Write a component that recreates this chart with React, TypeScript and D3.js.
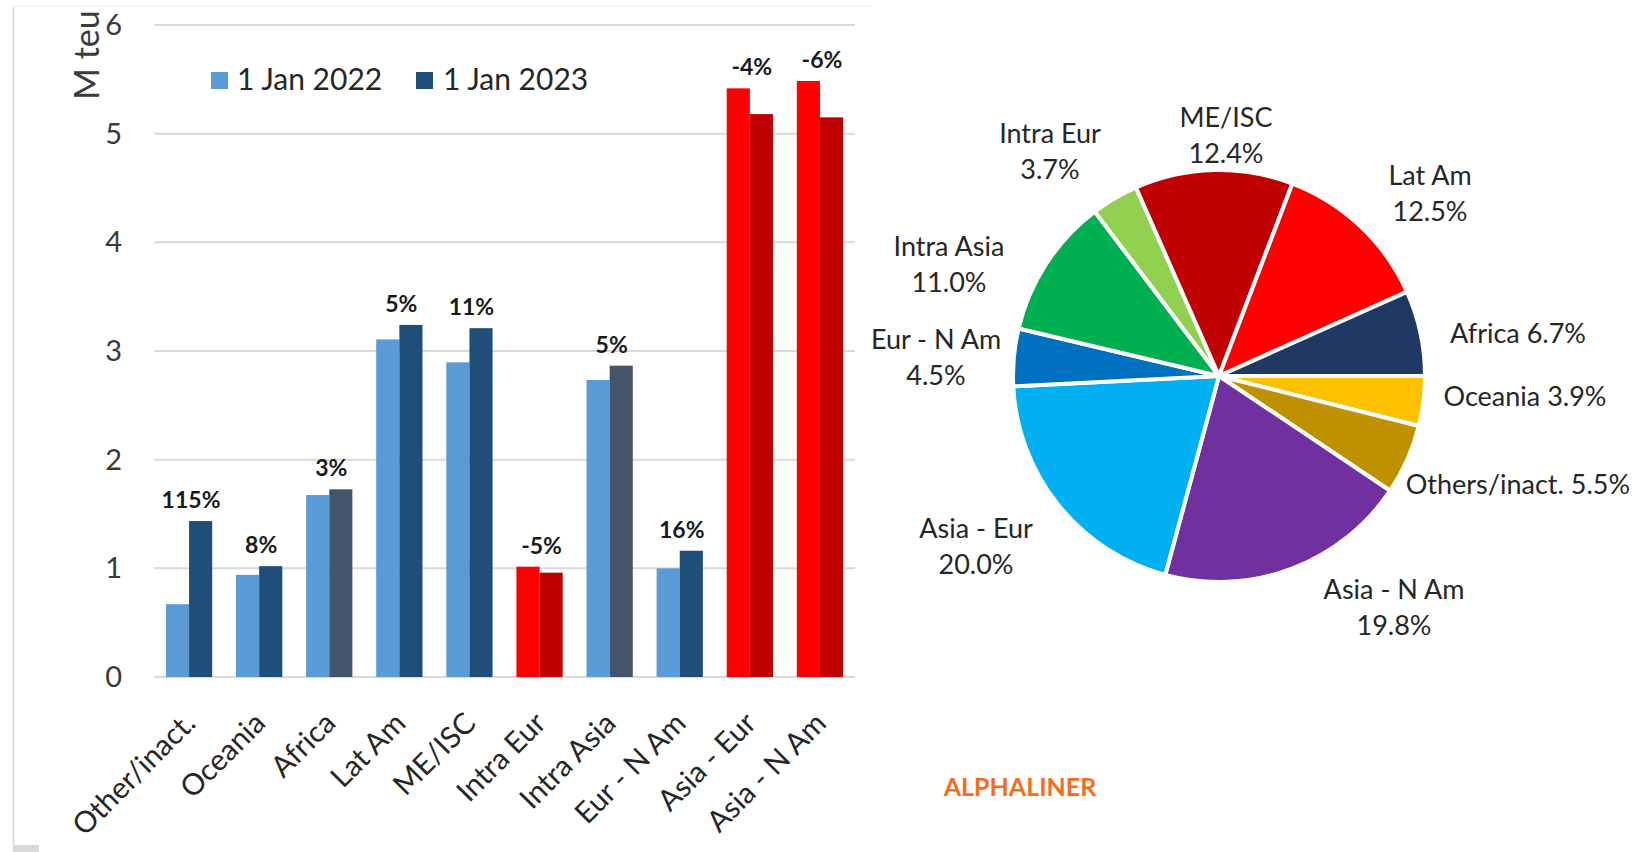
import React from 'react';
import * as d3 from 'd3';

// ---------- data ----------
const categories = ['Other/inact.', 'Oceania', 'Africa', 'Lat Am', 'ME/ISC', 'Intra Eur', 'Intra Asia', 'Eur - N Am', 'Asia - Eur', 'Asia - N Am'];
const jan2022 = [0.67, 0.94, 1.675, 3.107, 2.896, 1.015, 2.733, 1.0, 5.417, 5.485];
const jan2023 = [1.435, 1.02, 1.727, 3.24, 3.21, 0.96, 2.865, 1.162, 5.18, 5.15];
const growthLabels = ['115%', '8%', '3%', '5%', '11%', '-5%', '5%', '16%', '-4%', '-6%'];
const yTicks = [0, 1, 2, 3, 4, 5, 6];
const seriesNames = ['1 Jan 2022', '1 Jan 2023'];

const pieNames = ['Oceania', 'Others/inact.', 'Asia - N Am', 'Asia - Eur', 'Eur - N Am', 'Intra Asia', 'Intra Eur', 'ME/ISC', 'Lat Am', 'Africa'];
const pieShares = [3.9, 5.5, 19.8, 20.0, 4.5, 11.0, 3.7, 12.4, 12.5, 6.7];

// ---------- styles / layout ----------
const W = 1639, H = 852;
const FONT = 'Lato, "Open Sans", sans-serif';
const C_LIGHT = '#5b9bd5', C_DARK = '#1f4e79', C_SLATE = '#44546a';
const C_RED = '#ff0000', C_DRED = '#c00000';
const redCats = new Set(['Intra Eur', 'Asia - Eur', 'Asia - N Am']);
const slateCats = new Set(['Africa', 'Intra Asia']);
const pieColors: Record<string, string> = {
  'Oceania': '#ffc000', 'Others/inact.': '#bf9000', 'Asia - N Am': '#7030a0', 'Asia - Eur': '#00b0f0',
  'Eur - N Am': '#0070c0', 'Intra Asia': '#00b050', 'Intra Eur': '#92d050', 'ME/ISC': '#c00000',
  'Lat Am': '#ff0000', 'Africa': '#203864',
};
// label text layout (line centres)
const pieLabelLayout: Record<string, { x: number; y: number; single?: boolean }> = {
  'Intra Eur': { x: 1050, y: 134 },
  'ME/ISC': { x: 1226, y: 118 },
  'Lat Am': { x: 1430, y: 176 },
  'Intra Asia': { x: 949, y: 247 },
  'Eur - N Am': { x: 936, y: 340 },
  'Africa': { x: 1518, y: 334, single: true },
  'Oceania': { x: 1525, y: 397, single: true },
  'Others/inact.': { x: 1518, y: 485, single: true },
  'Asia - Eur': { x: 976, y: 529 },
  'Asia - N Am': { x: 1394, y: 590 },
};

export default function App() {
  const x = d3.scaleBand<string>().domain(categories).range([154, 855]).paddingInner(0.34).paddingOuter(0.17);
  const y = d3.scaleLinear().domain([0, 6]).range([677, 25]);
  const xs = d3.scaleBand<string>().domain(['a', 'b']).range([0, x.bandwidth()]);

  const pie = d3.pie<number>().sort(null).value((d) => d).startAngle(Math.PI / 2).endAngle(Math.PI / 2 + 2 * Math.PI);
  const arcs = pie(pieShares);
  const arc = d3.arc<d3.PieArcDatum<number>>().innerRadius(0).outerRadius(206);
  const pcx = 1219, pcy = 376;

  return (
    <svg width={W} height={H} style={{ position: 'absolute', left: 0, top: 0, display: 'block', background: '#fff' }} fontFamily={FONT}>
      <rect x={0} y={0} width={W} height={H} fill="#fff" />
      {/* faint frame */}
      <line x1={13.5} x2={13.5} y1={6} y2={H} stroke="#c9d7ee" strokeWidth={1.5} />
      <line x1={13} x2={870} y1={6.5} y2={6.5} stroke="#eef2f8" strokeWidth={1} />
      <rect x={13} y={845} width={26} height={7} fill="#d9d9d9" />

      {/* gridlines */}
      {yTicks.map((t) => (
        <line key={t} x1={154} x2={855} y1={y(t)} y2={y(t)} stroke="#d9d9d9" strokeWidth={2} />
      ))}
      {/* y tick labels */}
      {yTicks.map((t) => (
        <text key={'yt' + t} x={122} y={y(t)} dy="0.35em" textAnchor="end" fontSize={29} fill="#3a3a3a">{t}</text>
      ))}
      <text transform="translate(87,55) rotate(-90)" textAnchor="middle" dy="0.35em" fontSize={34} fill="#3a3a3a">M teu</text>

      {/* bars */}
      {categories.map((c, i) => {
        const x0 = x(c)!;
        const isRed = redCats.has(c);
        const c1 = isRed ? C_RED : C_LIGHT;
        const c2 = isRed ? C_DRED : slateCats.has(c) ? C_SLATE : C_DARK;
        return (
          <g key={c}>
            <rect x={x0 + xs('a')!} y={y(jan2022[i])} width={xs.bandwidth()} height={y(0) - y(jan2022[i])} fill={c1} />
            <rect x={x0 + xs('b')!} y={y(jan2023[i])} width={xs.bandwidth()} height={y(0) - y(jan2023[i])} fill={c2} />
            <text x={x0 + x.bandwidth() / 2 + 2} y={y(Math.max(jan2022[i], jan2023[i])) - 13} textAnchor="middle" fontSize={23} fontWeight={700} fill="#1a1a1a">{growthLabels[i]}</text>
          </g>
        );
      })}
      {/* x labels */}
      {categories.map((c) => {
        const cx = x(c)! + x.bandwidth() / 2;
        return (
          <text key={'xl' + c} transform={`translate(${cx + 8},${725}) rotate(-45)`} textAnchor="end" fontSize={29.5} fill="#262626">{c}</text>
        );
      })}

      {/* legend */}
      <rect x={211} y={72} width={17} height={17} fill={C_LIGHT} />
      <text x={237} y={90} fontSize={30} fill="#262626">{seriesNames[0]}</text>
      <rect x={416} y={72} width={17} height={17} fill={C_DARK} />
      <text x={443} y={90} fontSize={30} fill="#262626">{seriesNames[1]}</text>

      {/* pie */}
      <g transform={`translate(${pcx},${pcy})`}>
        {arcs.map((a, i) => (
          <path key={pieNames[i]} d={arc(a)!} fill={pieColors[pieNames[i]]} stroke="#fff" strokeWidth={4} strokeLinejoin="round" />
        ))}
      </g>
      {arcs.map((a, i) => {
        const n = pieNames[i];
        const L = pieLabelLayout[n];
        const pct = pieShares[i].toFixed(1) + '%';
        if (L.single) {
          return <text key={'pl' + n} x={L.x} y={L.y} dy="0.35em" textAnchor="middle" fontSize={27} fill="#262626">{n + ' ' + pct}</text>;
        }
        return (
          <g key={'pl' + n}>
            <text x={L.x} y={L.y} dy="0.35em" textAnchor="middle" fontSize={27} fill="#262626">{n}</text>
            <text x={L.x} y={L.y + 36} dy="0.35em" textAnchor="middle" fontSize={27} fill="#262626">{pct}</text>
          </g>
        );
      })}

      <text x={1020} y={796} textAnchor="middle" fontSize={25} fontWeight={700} fill="#f96a1b">ALPHALINER</text>
    </svg>
  );
}
